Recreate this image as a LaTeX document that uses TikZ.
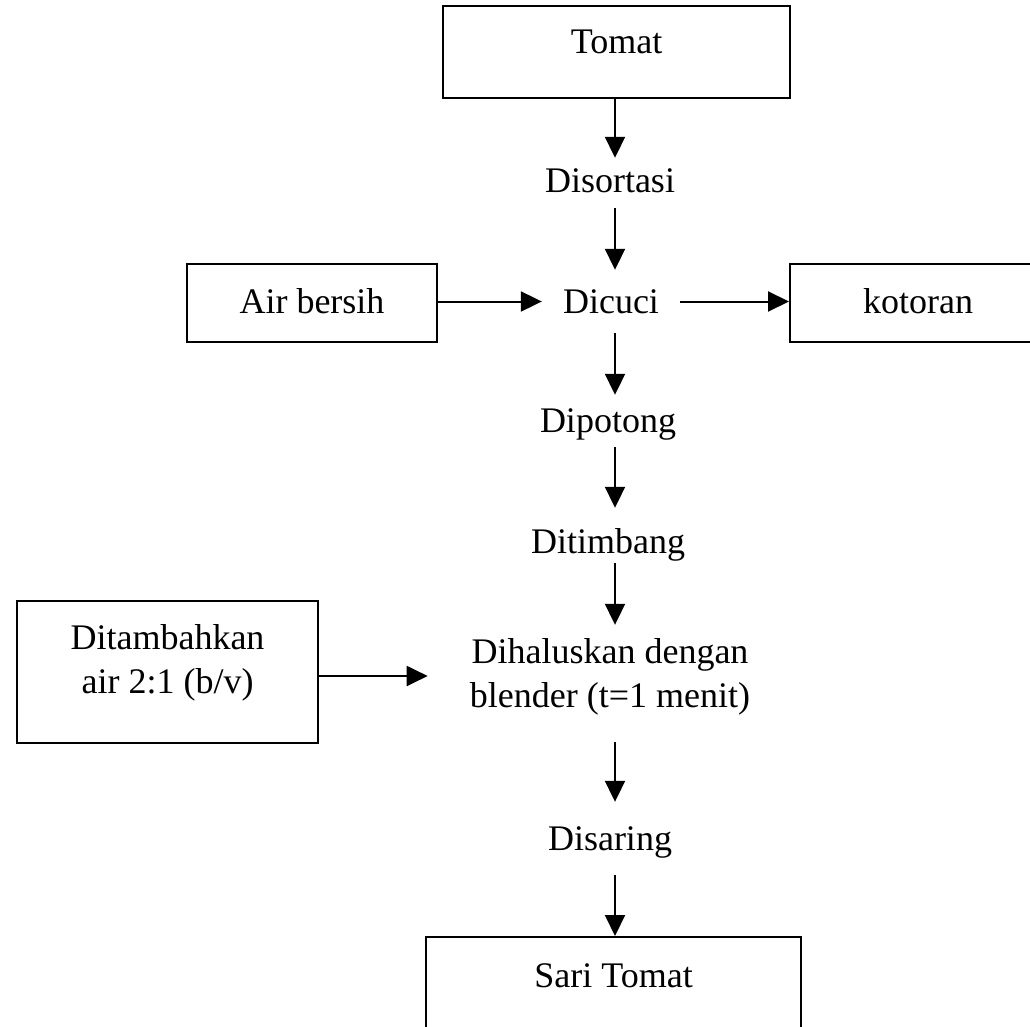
\documentclass[tikz,border=0pt]{standalone}
\usepackage{fontspec}
\setmainfont{Liberation Serif}
\usetikzlibrary{arrows.meta}
\begin{document}
\begin{tikzpicture}[x=1pt,y=-1pt,
  every node/.style={font=\fontsize{36}{44}\selectfont, inner sep=0pt, anchor=base},
  box/.style={draw, line width=2pt},
  lbl/.style={},
  arr/.style={line width=2pt, -{Triangle[length=21pt,width=20pt]}}]
\useasboundingbox (0,0) rectangle (1030,1027);
\coordinate (spine) at (615,0);
% boxes
\node[box, minimum width=347pt, text height=48pt, text depth=44pt] (tomat) at (616.5,54) {Tomat};
\node[box, minimum width=250pt, text height=49pt, text depth=29pt] (air) at (312,313) {Air bersih};
\node[box, minimum width=256pt, text height=49pt, text depth=29pt] (kotoran) at (918,313) {kotoran};
\node[box, minimum width=301pt, text height=92pt, text depth=50pt, align=center] (tambah) at (167.5,693) {Ditambahkan\\air 2:1 (b/v)};
\node[box, minimum width=375pt, text height=50pt, text depth=70pt] (sari) at (613.5,987) {Sari Tomat};
% step labels
\node[lbl, text height=35pt, text depth=15pt] (sortasi) at (610,193) {Disortasi};
\node[lbl, text height=43pt, text depth=20pt, inner xsep=21pt] (cuci) at (611,313) {Dicuci};
\node[lbl, text height=37pt, text depth=15pt] (potong) at (608,432) {Dipotong};
\node[lbl, text height=45pt, text depth=10pt] (timbang) at (608,553) {Ditimbang};
\node[lbl, text height=82pt, text depth=35pt, align=center, inner xsep=42pt] (halus) at (610,707) {Dihaluskan dengan\\blender (t=1 menit)};
\node[lbl, text height=48pt, text depth=25pt] (saring) at (610,850) {Disaring};
% connectors
\draw[arr] (tomat.south -| spine) -- (sortasi.north -| spine);
\draw[arr] (sortasi.south -| spine) -- (cuci.north -| spine);
\draw[arr] (cuci.south -| spine) -- (potong.north -| spine);
\draw[arr] (potong.south -| spine) -- (timbang.north -| spine);
\draw[arr] (timbang.south -| spine) -- (halus.north -| spine);
\draw[arr] (halus.south -| spine) -- (saring.north -| spine);
\draw[arr] (saring.south -| spine) -- (sari.north -| spine);
\draw[arr] (cuci.west -| air.east) -- (cuci.west);
\draw[arr] (cuci.east) -- (cuci.east -| kotoran.west);
\draw[arr] ([yshift=-4pt]tambah.east) -- ([yshift=-4pt]tambah.east -| halus.west);
\end{tikzpicture}
\end{document}
